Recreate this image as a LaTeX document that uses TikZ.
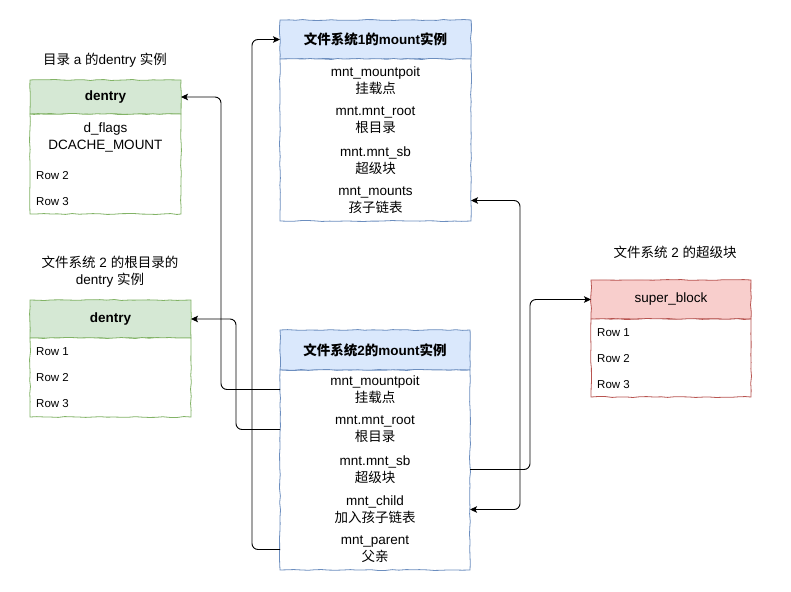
\documentclass[tikz,border=0pt]{standalone}
\usepackage{fontspec}
\setmainfont{Liberation Sans}
\newfontfamily\cjk{Noto Sans CJK SC}
\usetikzlibrary{arrows.meta,decorations.pathmorphing}
\definecolor{grnfill}{HTML}{D5E8D4}
\definecolor{grnline}{HTML}{82B366}
\definecolor{blufill}{HTML}{DAE8FC}
\definecolor{bluline}{HTML}{6C8EBF}
\definecolor{redfill}{HTML}{F8CECC}
\definecolor{redline}{HTML}{B85450}
\newcommand{\zh}[1]{{\cjk #1}}
\tikzset{
  sketch/.style={decorate,decoration={random steps,segment length=7pt,amplitude=0.5pt}},
  hdr/.style={draw=#1line,fill=#1fill,sketch,line width=0.8pt,inner sep=0pt,outer sep=0pt,anchor=north west},
  bdy/.style={draw=#1line,fill=white,sketch,line width=0.8pt,inner sep=0pt,outer sep=0pt,anchor=north},
  fld/.style={align=center,inner sep=0pt},
  rowtxt/.style={anchor=west,inner sep=0pt,font=\fontsize{11.5}{13}\selectfont},
  link/.style={line width=0.9pt,rounded corners=6pt,-{Stealth[length=7pt,width=6.5pt,inset=1.5pt]}}
}
\begin{document}
\begin{tikzpicture}[x=1pt,y=-1pt,font=\fontsize{13.5}{17}\selectfont]
  \useasboundingbox[fill=white] (0,0) rectangle (791,591);
  %% dentry of directory a
  \node (tda) at (105,60) {\zh{目录} a \zh{的}dentry \zh{实例}};
  \node[hdr=grn,minimum width=151pt,minimum height=34pt] (dahd) at (30,80) {\bfseries dentry};
  \node[bdy=grn,minimum width=151pt,minimum height=100pt] (dabd) at (dahd.south) {};
  \node[fld] (daflag) at (105.5,137.5) {d\_flags\\DCACHE\_MOUNT};
  \node[rowtxt] (dar2) at (36,176) {Row 2};
  \node[rowtxt] (dar3) at (36,202) {Row 3};
  %% root dentry of fs 2
  \node[fld] (tdb) at (110,271.5) {\zh{文件系统} 2 \zh{的根目录的}\\dentry \zh{实例}};
  \node[hdr=grn,minimum width=161pt,minimum height=38pt] (dbhd) at (30,300) {\bfseries dentry};
  \node[bdy=grn,minimum width=161pt,minimum height=79pt] (dbbd) at (dbhd.south) {};
  \node[rowtxt] (dbr1) at (36,352) {Row 1};
  \node[rowtxt] (dbr2) at (36,378) {Row 2};
  \node[rowtxt] (dbr3) at (36,404) {Row 3};
  %% mount of fs 1
  \node[hdr=blu,minimum width=191pt,minimum height=39pt] (m1hd) at (280,20) {\bfseries\zh{文件系统}1\zh{的}mount\zh{实例}};
  \node[bdy=blu,minimum width=191pt,minimum height=162pt] (m1bd) at (m1hd.south) {};
  \node[fld] (m1mp) at (375.5,80.5) {mnt\_mountpoit\\\zh{挂载点}};
  \node[fld] (m1rt) at (375.5,120.5) {mnt.mnt\_root\\\zh{根目录}};
  \node[fld] (m1sb) at (375.5,160.5) {mnt.mnt\_sb\\\zh{超级块}};
  \node[fld] (m1mt) at (375.5,200.5) {mnt\_mounts\\\zh{孩子链表}};
  %% mount of fs 2
  \node[hdr=blu,minimum width=190pt,minimum height=40pt] (m2hd) at (280,330) {\bfseries\zh{文件系统}2\zh{的}mount\zh{实例}};
  \node[bdy=blu,minimum width=190pt,minimum height=200pt] (m2bd) at (m2hd.south) {};
  \node[fld] (m2mp) at (375,389.5) {mnt\_mountpoit\\\zh{挂载点}};
  \node[fld] (m2rt) at (375,429.5) {mnt.mnt\_root\\\zh{根目录}};
  \node[fld] (m2sb) at (375,469.5) {mnt.mnt\_sb\\\zh{超级块}};
  \node[fld] (m2ch) at (375,509.5) {mnt\_child\\\zh{加入孩子链表}};
  \node[fld] (m2pa) at (375,549.5) {mnt\_parent\\\zh{父亲}};
  %% super block of fs 2
  \node (tsb) at (675,252) {\zh{文件系统} 2 \zh{的超级块}};
  \node[hdr=red,minimum width=160pt,minimum height=39pt] (sbhd) at (591,280) {super\_block};
  \node[bdy=red,minimum width=160pt,minimum height=78pt] (sbbd) at (sbhd.south) {};
  \node[rowtxt] (sbr1) at (597,333) {Row 1};
  \node[rowtxt] (sbr2) at (597,359) {Row 2};
  \node[rowtxt] (sbr3) at (597,385) {Row 3};
  %% links
  \draw[link] (m2bd.west |- m2mp) -- ++(-59,0) |- (dahd.east);
  \draw[link] (m2bd.west |- m2rt) -- ++(-44,0) |- (dbhd.east);
  \draw[link] (m2bd.west |- m2pa) -- ++(-28,0) |- (m1hd.west);
  \draw[link] (m2bd.east |- m2sb) -- ++(60,0) |- (sbhd.west);
  \draw[link,{Stealth[length=7pt,width=6.5pt,inset=1.5pt]}-{Stealth[length=7pt,width=6.5pt,inset=1.5pt]}] (m1bd.east |- m1mt) -- ++(49,0) |- (m2bd.east |- m2ch);
\end{tikzpicture}
\end{document}
